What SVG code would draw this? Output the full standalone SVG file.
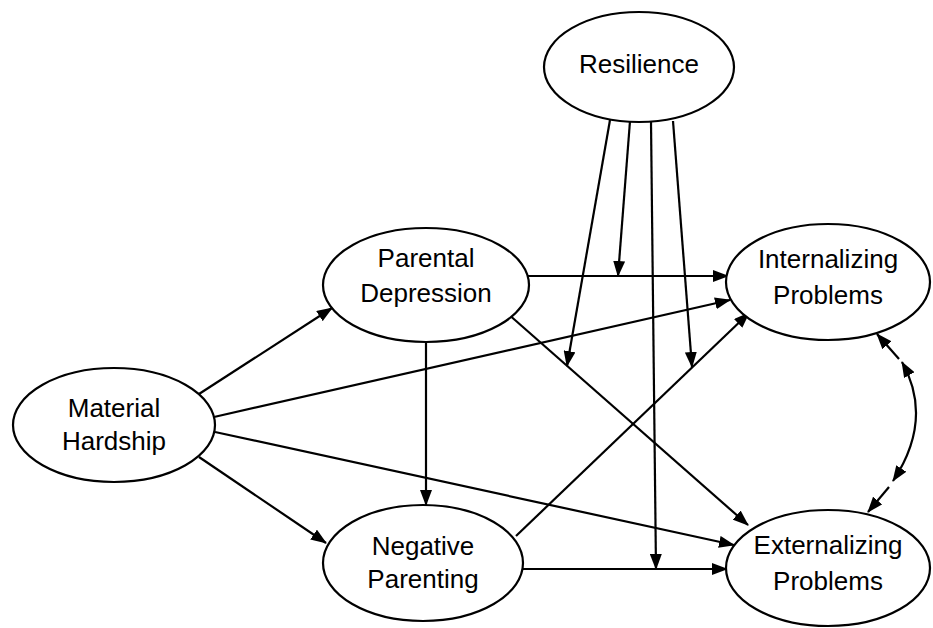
<svg xmlns="http://www.w3.org/2000/svg" width="933" height="628" viewBox="0 0 933 628">
<style>
.node ellipse{fill:#fff;stroke:#000;stroke-width:2.2}
.node text{font-family:"Liberation Sans",Arial,sans-serif;font-size:26px;fill:#000;text-anchor:middle}
.edges line,.edges path{stroke:#000;stroke-width:2.2;fill:none}
</style>
<defs>
<marker id="ah" markerUnits="userSpaceOnUse" markerWidth="16" markerHeight="12" refX="15" refY="6" orient="auto-start-reverse" viewBox="0 0 16 12">
<path d="M0,0 L16,6 L0,12 z" fill="#000"/>
</marker>
</defs>
<rect width="933" height="628" fill="#fff"/>
<g class="edges">
<line x1="523" y1="276" x2="728" y2="276" marker-end="url(#ah)"/>
<line x1="214" y1="417" x2="730" y2="300" marker-end="url(#ah)"/>
<line x1="199" y1="394" x2="332" y2="308" marker-end="url(#ah)"/>
<line x1="199" y1="457" x2="326" y2="543" marker-end="url(#ah)"/>
<line x1="215" y1="432" x2="734" y2="545" marker-end="url(#ah)"/>
<line x1="523" y1="569" x2="727" y2="569" marker-end="url(#ah)"/>
<line x1="426" y1="342" x2="426" y2="505" marker-end="url(#ah)"/>
<line x1="507" y1="313" x2="748" y2="525" marker-end="url(#ah)"/>
<line x1="516" y1="536" x2="749" y2="313" marker-end="url(#ah)"/>
<line x1="610" y1="120" x2="567" y2="366" marker-end="url(#ah)"/>
<line x1="630" y1="121" x2="618" y2="276" marker-end="url(#ah)"/>
<line x1="651" y1="122" x2="656" y2="569" marker-end="url(#ah)"/>
<line x1="673" y1="121" x2="692" y2="367" marker-end="url(#ah)"/>
<path d="M902,362 Q934,419 893,481" marker-start="url(#ah)" marker-end="url(#ah)"/>
<line x1="899" y1="359" x2="877" y2="334" marker-end="url(#ah)"/>
<line x1="889" y1="487" x2="868" y2="512" marker-end="url(#ah)"/>
</g>
<g id="resilience" class="node"><ellipse cx="639" cy="67" rx="95" ry="55"/><text x="639" y="73">Resilience</text></g>
<g id="parental-depression" class="node"><ellipse cx="426" cy="285" rx="103" ry="57"/><text x="426" y="267">Parental</text><text x="426" y="302">Depression</text></g>
<g id="material-hardship" class="node"><ellipse cx="114" cy="425" rx="101" ry="57"/><text x="114" y="417">Material</text><text x="114" y="450">Hardship</text></g>
<g id="negative-parenting" class="node"><ellipse cx="423" cy="563" rx="100" ry="58"/><text x="423" y="555">Negative</text><text x="423" y="588">Parenting</text></g>
<g id="internalizing-problems" class="node"><ellipse cx="828" cy="282" rx="102" ry="58"/><text x="828" y="268">Internalizing</text><text x="828" y="304">Problems</text></g>
<g id="externalizing-problems" class="node"><ellipse cx="828" cy="568" rx="102" ry="58"/><text x="828" y="554">Externalizing</text><text x="828" y="590">Problems</text></g>
</svg>
